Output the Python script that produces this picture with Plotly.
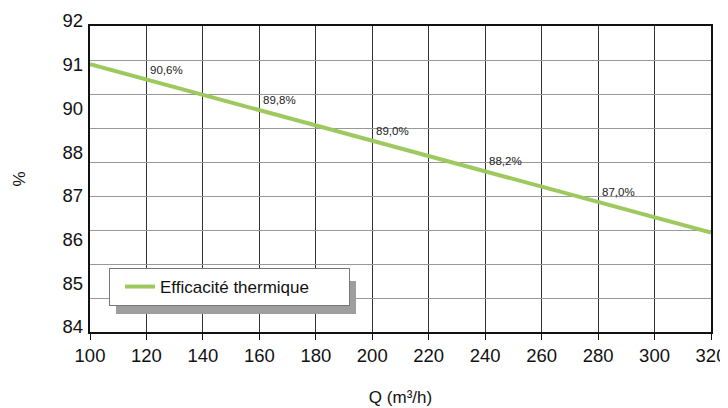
import plotly.graph_objects as go

# Data
flow = [100, 120, 140, 160, 180, 200, 220, 240, 260, 280, 300, 320]
efficiency = [91.0, 90.6, 90.2, 89.8, 89.4, 89.0, 88.6, 88.2, 87.8, 87.4, 87.0, 86.6]
label_flow = [120, 160, 200, 240, 280]
label_text = ["90,6%", "89,8%", "89,0%", "88,2%", "87,0%"]
y_tick_text = ["84", "85", "86", "87", "88", "90", "91", "92"]
series_name = "Efficacité thermique"

FONT = "Liberation Sans, Arial, sans-serif"
GREEN = "#9dc95f"

y_min, y_max = 84, 92
n_grid = 9
y_tick_pos = [y_min + i * (y_max - y_min) / (len(y_tick_text) - 1) for i in range(len(y_tick_text))]

lookup = dict(zip(flow, efficiency))
label_y = [lookup[x] for x in label_flow]

# page body has an 8px margin: figure is drawn at (8, 8)
W, H = 720, 400
L, T = 82, 18
PW, PH = 621, 306

fig = go.Figure()
fig.add_trace(go.Scatter(
    x=flow, y=efficiency, mode="lines", name=series_name,
    line=dict(color=GREEN, width=4), hoverinfo="skip",
))
fig.add_trace(go.Scatter(
    x=flow, y=efficiency, mode="lines", yaxis="y2", opacity=0,
    showlegend=False, hoverinfo="skip",
))

annotations = [
    dict(x=x, y=y, xref="x", yref="y", text=t, showarrow=False,
         xanchor="left", yanchor="bottom", xshift=2, yshift=2,
         font=dict(size=11.5, color="#222", family=FONT))
    for x, y, t in zip(label_flow, label_y, label_text)
]

fig.update_layout(
    width=W, height=H,
    margin=dict(l=L, r=W - L - PW, t=T, b=H - T - PH),
    paper_bgcolor="white", plot_bgcolor="white",
    font=dict(family=FONT, color="#111", size=17),
    xaxis=dict(
        range=[100, 320], dtick=20, tick0=100, automargin=False,
        showgrid=True, gridcolor="#333", gridwidth=1,
        ticks="outside", ticklen=6, tickcolor="#111", tickwidth=1,
        showline=True, linecolor="#111", linewidth=2, mirror=True,
        zeroline=False, tickfont=dict(size=18.5),
        title=dict(text="Q (m³/h)", font=dict(size=17), standoff=26),
    ),
    yaxis=dict(
        range=[y_min, y_max], tick0=y_min, dtick=(y_max - y_min) / n_grid,
        automargin=False,
        showgrid=True, gridcolor="#999", gridwidth=1,
        showticklabels=False, ticks="",
        showline=True, linecolor="#111", linewidth=2, mirror=True,
        zeroline=False,
    ),
    yaxis2=dict(
        overlaying="y", side="left", range=[y_min, y_max], automargin=False,
        tickvals=y_tick_pos, ticktext=y_tick_text,
        showgrid=False, showline=False, zeroline=False, ticks="",
        ticklabelshift=-5, ticklabelstandoff=6,
        tickfont=dict(size=18.5),
        title=dict(text="%", font=dict(size=17), standoff=32),
    ),
    legend=dict(
        orientation="h", entrywidth=184, entrywidthmode="pixels", indentation=10,
        x=(109 - 90) / PW, y=(332 - 268) / PH, xanchor="left", yanchor="top",
        bgcolor="white", bordercolor="#777", borderwidth=1,
        font=dict(size=17, family=FONT, color="#111"),
    ),
    shapes=[dict(
        type="rect", xref="paper", yref="paper", layer="above",
        x0=(116 - 90) / PW, x1=(356 - 90) / PW,
        y0=(332 - 314) / PH, y1=(332 - 281) / PH,
        fillcolor="#9e9e9e", line=dict(width=0),
    )],
    annotations=annotations,
    showlegend=True,
)

fig.write_html("out.html")
